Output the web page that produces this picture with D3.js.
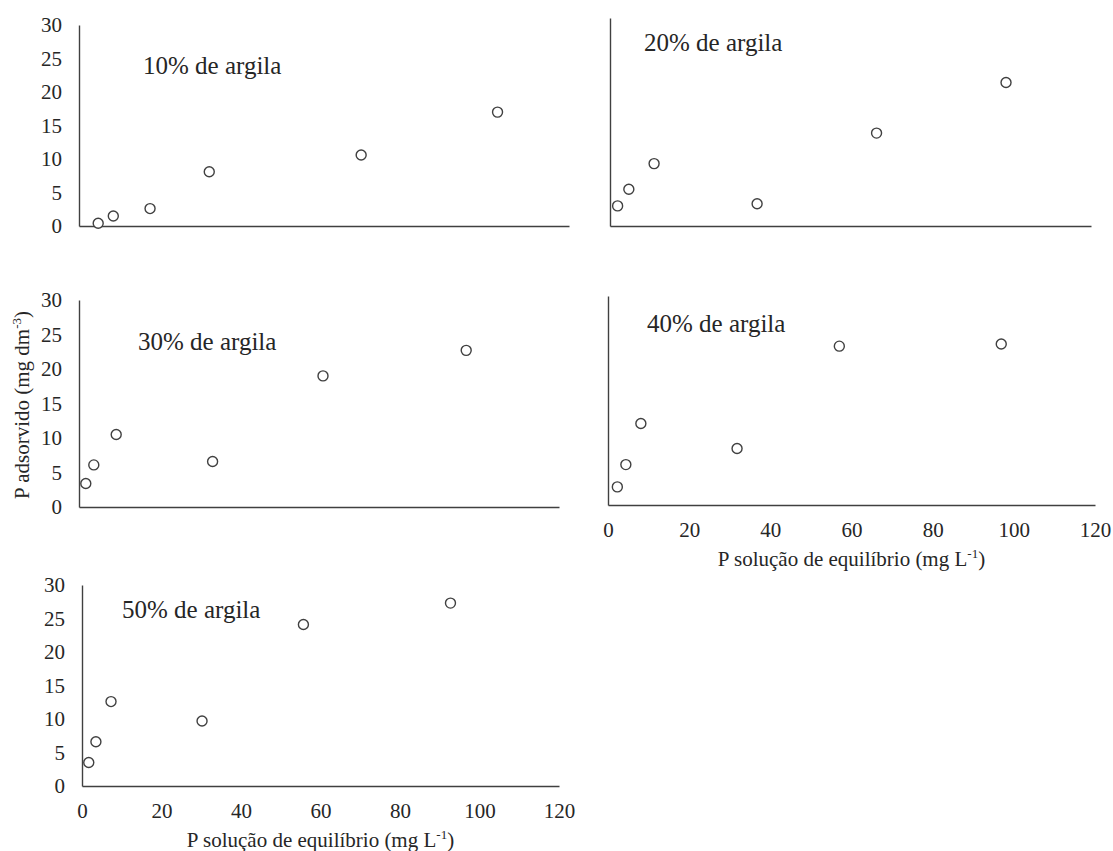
<!DOCTYPE html>
<html>
<head>
<meta charset="utf-8">
<script src="https://cdn.jsdelivr.net/npm/d3@7"></script>
<style>
  html, body { margin: 0; padding: 0; background: #fff; }
  svg text { font-family: "Liberation Serif", "DejaVu Serif", serif; }
</style>
</head>
<body>
<div id="chart"></div>
<script>
// data
const panelLabels = ["10% de argila", "20% de argila", "30% de argila", "40% de argila", "50% de argila"];

const argila10X = [4.7, 8.4, 17.4, 31.9, 69.1, 102.5];
const argila10Y = [0.4, 1.5, 2.6, 8.1, 10.6, 17.0];

const argila20X = [1.9, 4.7, 11.0, 36.7, 66.5, 98.8];
const argila20Y = [2.9, 5.3, 9.0, 3.2, 13.4, 20.7];

const argila30X = [1.7, 3.7, 9.3, 33.4, 61.0, 96.8];
const argila30Y = [3.4, 6.1, 10.5, 6.6, 19.0, 22.7];

const argila40X = [2.3, 4.4, 8.1, 31.8, 57.0, 96.9];
const argila40Y = [2.6, 5.8, 11.7, 8.1, 22.8, 23.1];

const argila50X = [1.7, 3.5, 7.3, 30.2, 55.7, 92.7];
const argila50Y = [3.5, 6.6, 12.6, 9.7, 24.1, 27.3];

const xTicks = [0, 20, 40, 60, 80, 100, 120];
const yTicks = [0, 5, 10, 15, 20, 25, 30];

const xTitle = "P solução de equilíbrio (mg L";
const xTitleSup = "-1";
const yTitle = "P adsorvido (mg dm";
const yTitleSup = "-3";

const width = 1113;
const height = 851;
const ink = "#262626";
const lineColor = "#404040";

// panel frames in pixels
const panels = [
  { xs: argila10X, ys: argila10Y, left: 79, right: 569, top: 25, bottom: 226, yLabels: true, xLabels: false, lx: 143, ly: 74 },
  { xs: argila20X, ys: argila20Y, left: 610, right: 1091, top: 18, bottom: 226, yLabels: false, xLabels: false, lx: 644, ly: 51 },
  { xs: argila30X, ys: argila30Y, left: 79, right: 559, top: 300, bottom: 507, yLabels: true, xLabels: false, lx: 138, ly: 350 },
  { xs: argila40X, ys: argila40Y, left: 608, right: 1095, top: 296, bottom: 505, yLabels: false, xLabels: true, lx: 647, ly: 332 },
  { xs: argila50X, ys: argila50Y, left: 82, right: 559, top: 585, bottom: 786, yLabels: true, xLabels: true, lx: 122, ly: 618 },
];

const svg = d3
  .select("#chart")
  .append("svg")
  .attr("width", width)
  .attr("height", height);

svg.append("rect").attr("width", width).attr("height", height).attr("fill", "#fff");

panels.forEach((p, i) => {
  const x = d3.scaleLinear().domain([0, 120]).range([p.left, p.right]);
  const y = d3.scaleLinear().domain([0, 30]).range([p.bottom, p.top]);

  const g = svg.append("g");

  // y axis
  const yAxis = d3.axisLeft(y).tickSize(0).tickSizeOuter(0).tickPadding(17);
  if (p.yLabels) yAxis.tickValues(yTicks);
  else yAxis.tickValues([]);
  g.append("g")
    .attr("transform", `translate(${p.left},0)`)
    .call(yAxis)
    .attr("font-family", null)
    .call((a) => a.select(".domain").attr("stroke", lineColor).attr("stroke-width", 1.4))
    .call((a) => a.selectAll("text").attr("fill", ink).style("font-size", "21px"));

  // x axis
  const xAxis = d3.axisBottom(x).tickSize(0).tickSizeOuter(0).tickPadding(17);
  if (p.xLabels) xAxis.tickValues(xTicks);
  else xAxis.tickValues([]);
  g.append("g")
    .attr("transform", `translate(0,${p.bottom})`)
    .call(xAxis)
    .attr("font-family", null)
    .call((a) => a.select(".domain").attr("stroke", lineColor).attr("stroke-width", 1.4))
    .call((a) => a.selectAll("text").attr("fill", ink).style("font-size", "21px"));

  // x title
  if (p.xLabels) {
    const t = g
      .append("text")
      .attr("x", (p.left + p.right) / 2)
      .attr("y", p.bottom + 61)
      .attr("text-anchor", "middle")
      .attr("fill", ink)
      .style("font-size", "21px");
    t.append("tspan").text(xTitle);
    t.append("tspan").attr("dy", -8).style("font-size", "13px").text(xTitleSup);
    t.append("tspan").attr("dy", 8).text(")");
  }

  // points
  const pts = p.xs.map((v, k) => [v, p.ys[k]]);
  g.selectAll("circle")
    .data(pts)
    .join("circle")
    .attr("cx", (d) => x(d[0]))
    .attr("cy", (d) => y(d[1]))
    .attr("r", 5)
    .attr("fill", "#fff")
    .attr("stroke", lineColor)
    .attr("stroke-width", 1.4);

  // panel label
  g.append("text")
    .attr("x", p.lx)
    .attr("y", p.ly)
    .attr("fill", ink)
    .style("font-size", "25px")
    .text(panelLabels[i]);
});

// y title, centred on the middle row
const yt = svg
  .append("text")
  .attr("transform", "translate(29,405) rotate(-90)")
  .attr("text-anchor", "middle")
  .attr("fill", ink)
  .style("font-size", "21px");
yt.append("tspan").text(yTitle);
yt.append("tspan").attr("dy", -8).style("font-size", "13px").text(yTitleSup);
yt.append("tspan").attr("dy", 8).text(")");
</script>
</body>
</html>
